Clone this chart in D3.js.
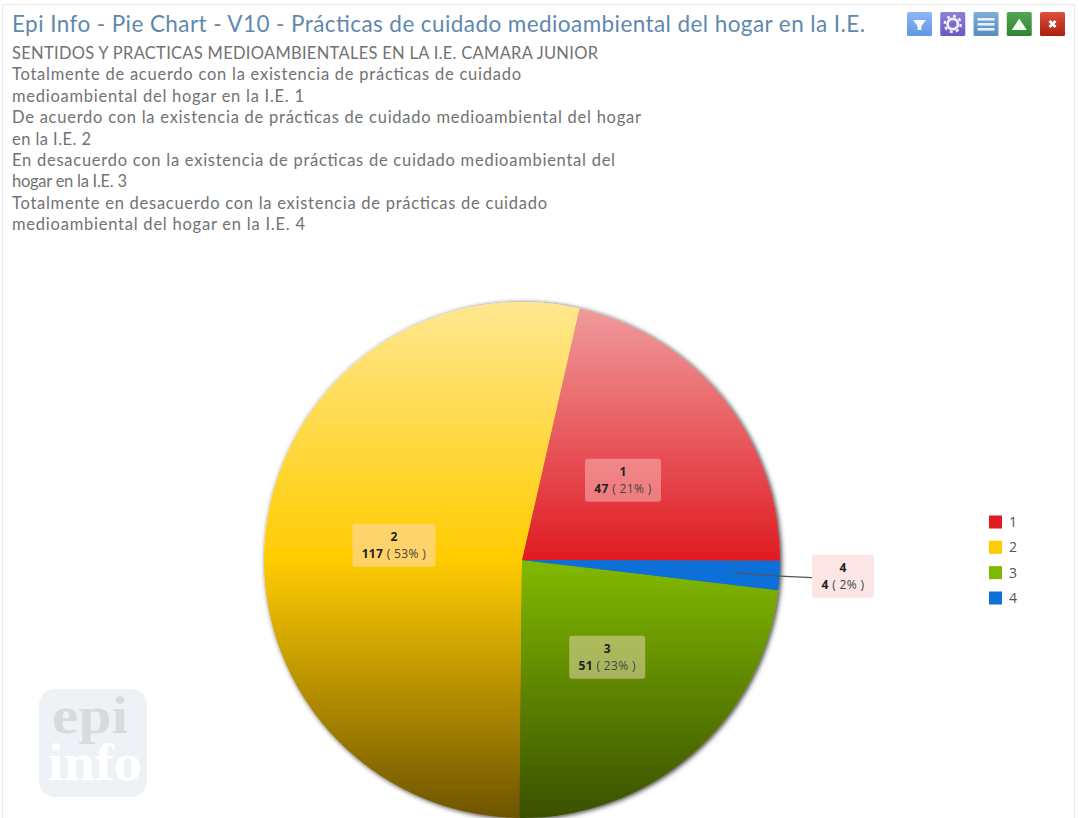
<!DOCTYPE html>
<html><head><meta charset="utf-8">
<script src="https://cdn.jsdelivr.net/npm/d3@7/dist/d3.min.js"></script>
<style>html,body{margin:0;padding:0;background:#fff}svg{display:block}</style>
</head><body><div id="c"></div>
<script>
const titleText = "Epi Info - Pie Chart - V10 - Prácticas de cuidado medioambiental del hogar en la I.E.";
const subtitleLines = [
 "SENTIDOS Y PRACTICAS MEDIOAMBIENTALES EN LA I.E. CAMARA JUNIOR",
 "Totalmente de acuerdo con la existencia de prácticas de cuidado",
 "medioambiental del hogar en la I.E. 1",
 "De acuerdo con la existencia de prácticas de cuidado medioambiental del hogar",
 "en la I.E. 2",
 "En desacuerdo con la existencia de prácticas de cuidado medioambiental del",
 "hogar en la I.E. 3",
 "Totalmente en desacuerdo con la existencia de prácticas de cuidado",
 "medioambiental del hogar en la I.E. 4"];
const categories = ["1","2","3","4"];
const values = [47,117,51,4];
const percents = ["21%","53%","23%","2%"];
const sliceOrder = ["1","4","3","2"];
const colors = ["#e01b22","#ffcc00","#80b800","#0f70d8"];
const gradTop = ["#f09a9c","#ffe790","#80b800","#0f70d8"];
const gradBottom = ["#e01b22","#6e5400","#3a5000","#0f70d8"];
const gradMid = [1,0.5,0.02,0.5];

const W=1079,H=818,cx=522,cy=560,R=258;
const svg=d3.select("#c").append("svg").attr("width",W).attr("height",H);
const defs=svg.append("defs");
const font="'Open Sans',sans-serif";
const headFont="Lato,'Open Sans',sans-serif";

// frame
svg.append("path").attr("d",`M2.5,${H} V4.5 H1074.5 V${H}`).attr("fill","none").attr("stroke","#e6e8ea");

// title + subtitle
svg.append("text").attr("x",12).attr("y",32).attr("font-family",headFont).attr("font-size",22.5)
  .attr("fill","#5f88ad").attr("textLength",853).attr("lengthAdjust","spacing").text(titleText);
const lineY=d3.scaleLinear().domain([0,8]).range([59,230]);
const lineWidths=[586,509,292,629,79,603,115,535,293];
svg.append("g").selectAll("text").data(subtitleLines).join("text")
  .attr("x",12).attr("y",(d,i)=>lineY(i)).attr("font-family",headFont).attr("font-size",16.5)
  .attr("fill","#727272").attr("textLength",(d,i)=>lineWidths[i]).attr("lengthAdjust","spacing").text(d=>d);

// toolbar icons
const iconNames=["filter","gear","list","up","close"];
const iconTop=["#8fb8f2","#8d80dc","#80acd6","#52a852","#e0503c"];
const iconBot=["#5f96e6","#6a58c4","#5b8bbd","#2f8432","#a82010"];
const iconX=d3.scalePoint().domain(iconNames).range([907,1040]);
const ib=defs.append("filter").attr("id","soft");
ib.append("feGaussianBlur").attr("stdDeviation",0.5);
iconNames.forEach((n,i)=>{
  const g=defs.append("linearGradient").attr("id","ic"+i).attr("x1",0).attr("x2",0).attr("y1",0).attr("y2",1);
  g.append("stop").attr("offset",0).attr("stop-color",iconTop[i]);
  g.append("stop").attr("offset",1).attr("stop-color",iconBot[i]);
  const t=svg.append("g").attr("transform",`translate(${iconX(n)},12)`).attr("filter","url(#soft)");
  t.append("rect").attr("width",25).attr("height",24).attr("rx",1.5).attr("fill",`url(#ic${i})`);
  if(n==="filter") t.append("path").attr("d","M6,8H19L14.5,14V18H10.5V14Z").attr("fill","#fff").attr("opacity",.92);
  if(n==="gear"){
    t.append("circle").attr("cx",12.5).attr("cy",12).attr("r",5.2).attr("fill","none").attr("stroke","#f1effc").attr("stroke-width",2.8);
    t.append("circle").attr("cx",12.5).attr("cy",12).attr("r",8).attr("fill","none").attr("stroke","#f1effc").attr("stroke-width",2.4).attr("stroke-dasharray","3 3.28");
  }
  if(n==="list") [6,11,16].forEach(y=>t.append("rect").attr("x",4).attr("y",y).attr("width",17).attr("height",2.6).attr("fill","#e6f0fa"));
  if(n==="up") t.append("path").attr("d","M12.5,6.5L20,18H5Z").attr("fill","#f4fbf0");
  if(n==="close") t.append("path").attr("d","M9.5,9L15.5,15M15.5,9L9.5,15").attr("stroke","#fff").attr("stroke-width",2.8).attr("fill","none");
});

// watermark
const wm=svg.append("g");
wm.append("rect").attr("x",39).attr("y",689).attr("width",108).attr("height",108).attr("rx",16).attr("fill","#eef1f6");
wm.append("text").attr("x",90).attr("y",733).attr("text-anchor","middle").attr("font-family","'Liberation Serif',serif")
  .attr("font-weight","bold").attr("font-size",52).attr("fill","#d6dbdc").attr("textLength",76).attr("lengthAdjust","spacingAndGlyphs").text("epi");
wm.append("text").attr("x",95).attr("y",780).attr("text-anchor","middle").attr("font-family","'Liberation Serif',serif")
  .attr("font-weight","bold").attr("font-size",52).attr("fill","#fff").attr("textLength",94).attr("lengthAdjust","spacingAndGlyphs").text("info");

// pie
const f=defs.append("filter").attr("id","sh").attr("x","-5%").attr("y","-5%").attr("width","110%").attr("height","110%");
f.append("feDropShadow").attr("dx",1.5).attr("dy",1).attr("stdDeviation",2.5).attr("flood-color","#000").attr("flood-opacity",.8);
const data=categories.map((c,i)=>({c,i,v:values[i],p:percents[i]}));
const deg=Math.PI/180;
const pie=d3.pie().value(d=>d.v).startAngle(12.9*deg).endAngle(372.9*deg)
  .sort((a,b)=>sliceOrder.indexOf(a.c)-sliceOrder.indexOf(b.c));
const arcs=pie(data);
const arc=d3.arc().innerRadius(0).outerRadius(R);
const labelArc=d3.arc().innerRadius(R/2).outerRadius(R/2);
const leaderArc=d3.arc().innerRadius(R*0.82).outerRadius(R*0.82);
data.forEach(d=>{
  const g=defs.append("linearGradient").attr("id","sl"+d.i).attr("x1",0).attr("x2",0).attr("y1",0).attr("y2",1);
  g.append("stop").attr("offset",0).attr("stop-color",gradTop[d.i]);
  g.append("stop").attr("offset",gradMid[d.i]).attr("stop-color",colors[d.i]);
  g.append("stop").attr("offset",1).attr("stop-color",gradBottom[d.i]);
});
const root=svg.append("g").attr("transform",`translate(${cx},${cy})`);
root.append("g").attr("filter","url(#sh)").selectAll("path").data(arcs).join("path")
  .attr("d",arc).attr("fill",d=>`url(#sl${d.data.i})`);

// leader for the small slice
const small=arcs.find(d=>d.data.c==="4");
const [lx,ly]=leaderArc.centroid(small);
root.append("path").attr("d",d3.line()([[lx,ly],[R,ly+3.5],[R+32,ly+5]])).attr("fill","none").attr("stroke","#555").attr("stroke-width",1.2);

// data labels
const boxW={"1":76,"2":83,"3":76,"4":62}, boxBg={"1":"rgba(255,215,215,.42)","2":"rgba(255,215,170,.6)","3":"rgba(225,215,170,.55)","4":"#fbe5e5"};
arcs.forEach(a=>{
  let [x,y]=labelArc.centroid(a);
  if(a.data.c==="4"){x=R+63;y=ly+3;}
  const g=root.append("g").attr("transform",`translate(${x},${y})`);
  g.append("rect").attr("x",-boxW[a.data.c]/2).attr("y",-21).attr("width",boxW[a.data.c]).attr("height",43).attr("rx",3).attr("fill",boxBg[a.data.c]);
  g.append("text").attr("text-anchor","middle").attr("y",-4).attr("font-family",font).attr("font-size",12).attr("font-weight","bold").attr("fill","#222").text(a.data.c);
  const t=g.append("text").attr("text-anchor","middle").attr("y",13).attr("font-family",font).attr("font-size",12).attr("letter-spacing",0.35).attr("fill","#444");
  t.append("tspan").attr("font-weight","bold").attr("fill","#222").text(a.data.v);
  t.append("tspan").text(` ( ${a.data.p} )`);
});

// legend
const ly2=d3.scalePoint().domain(categories).range([522,598]);
const lg=svg.append("g").selectAll("g").data(data).join("g").attr("transform",d=>`translate(989,${ly2(d.c)})`);
lg.append("rect").attr("y",-6.5).attr("width",13).attr("height",13).attr("fill",d=>colors[d.i]);
lg.append("text").attr("x",20).attr("y",5).attr("font-family",font).attr("font-size",14).attr("fill","#555").text(d=>d.c);
</script></body></html>
